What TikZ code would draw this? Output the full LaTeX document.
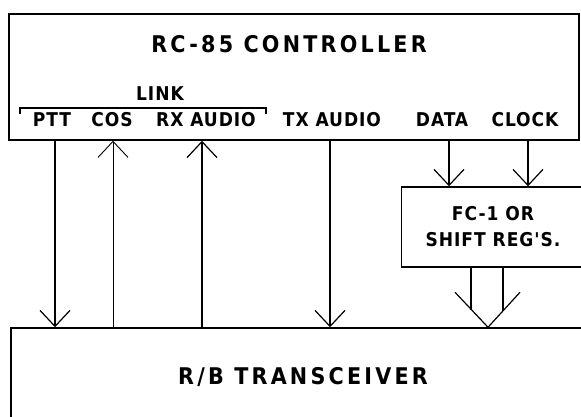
\documentclass[tikz,border=0pt]{standalone}
\usepackage{fontspec}
\setmainfont{DejaVu Sans}
\newfontfamily\headfont[LetterSpace=14]{DejaVu Sans Condensed Bold}
\newfontfamily\sigfont[LetterSpace=5]{DejaVu Sans Condensed Bold}
\usetikzlibrary{arrows.meta}

\begin{document}
\begin{tikzpicture}[x=1pt,y=-1pt,>={Straight Barb[length=16pt,width=30pt]},
		line width=1.2pt,
		block/.style={draw,rectangle,line width=1.5pt,inner sep=0pt},
		headtxt/.style={font=\headfont\fontsize{23}{27}\selectfont},
		sig/.style={font=\sigfont\fontsize{19}{26}\selectfont,inner sep=0pt}]
		\useasboundingbox (0,0) rectangle (581,417);
		% controller
		\node[block,minimum width=570pt,minimum height=126pt] (ctl) at (294,77) {};
		\node[headtxt] (ctltxt) at (289,44) {RC-85 CONTROLLER};
		\node[sig] (link) at (160,94) {LINK};
		\node[sig] (ptt) at (52,120) {PTT};
		\node[sig] (cos) at (112,120) {COS};
		\node[sig] (rxa) at (206,120) {RX AUDIO};
		\node[sig] (txa) at (332,120) {TX AUDIO};
		\node[sig] (dat) at (442,120) {DATA};
		\node[sig] (clk) at (525,120) {CLOCK};
		\draw (20,114) -- (20,108) -- (266,108) -- (266,114);
		% fc-1
		\node[block,sig,align=center,minimum width=183pt,minimum height=80pt] (fc) at (493,227) {FC-1 OR\\SHIFT REG'S.};
		% transceiver
		\node[block,minimum width=600pt,minimum height=120pt] (rb) at (311,388) {};
		\node[headtxt] (rbtxt) at (303,377) {R/B TRANSCEIVER};
		\path (55,0) coordinate (xptt) (113,0) coordinate (xcos) (202,0) coordinate (xrxa)
		(330,0) coordinate (xtxa) (449,0) coordinate (xdat) (528,0) coordinate (xclk)
		(488,0) coordinate (xmrg);
		\draw[->] (xptt |- ctl.south) -- (xptt |- rb.north);
		\draw[->,line width=0.9pt] (xcos |- rb.north) -- (xcos |- ctl.south);
		\draw[->] (xrxa |- rb.north) -- (xrxa |- ctl.south);
		\draw[->] (xtxa |- ctl.south) -- (xtxa |- rb.north);
		\draw[->] (xdat |- ctl.south) -- (xdat |- fc.north);
		\draw[->] (xclk |- ctl.south) -- (xclk |- fc.north);
		% both outputs into one head
		\coordinate (mrg) at (xmrg |- rb.north);
		\coordinate (sl) at (471,310);
		\coordinate (sr) at (503,311);
		\draw (sl |- fc.south) -- (sl);
		\draw (sr |- fc.south) -- (sr);
		\draw (mrg) ++(-33,-35) -- (mrg) -- ++(32,-35);
\end{tikzpicture}
\end{document}
